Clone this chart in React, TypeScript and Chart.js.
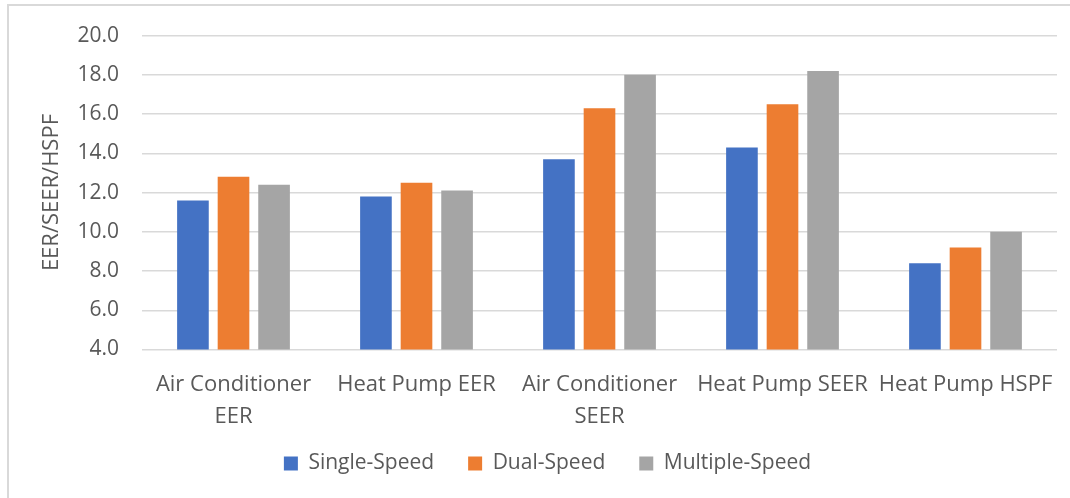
import React, { useEffect, useRef } from "react";
import { Chart, registerables } from "chart.js";

Chart.register(...registerables);

const categories: (string | string[])[] = [
  ["Air Conditioner", "EER"],
  "Heat Pump EER",
  ["Air Conditioner", "SEER"],
  "Heat Pump SEER",
  "Heat Pump HSPF",
];
const singleSpeed = [11.6, 11.8, 13.7, 14.3, 8.4];
const dualSpeed = [12.8, 12.5, 16.3, 16.5, 9.2];
const multipleSpeed = [12.4, 12.1, 18.0, 18.2, 10.0];
const seriesNames = ["Single-Speed", "Dual-Speed", "Multiple-Speed"];
const yTitle = "EER/SEER/HSPF";

const FONT = "'Open Sans', sans-serif";
const TEXT = "#595959";
const PAD_BOTTOM = 14;
const PLOT_BOTTOM = 349.5;
const CANVAS_H = 498;

export default function App() {
  const ref = useRef<HTMLCanvasElement>(null);
  useEffect(() => {
    if (!ref.current) return;
    const chart = new Chart(ref.current, {
      type: "bar",
      data: {
        labels: categories,
        datasets: [
          { label: seriesNames[0], data: singleSpeed, backgroundColor: "#4472C4" },
          { label: seriesNames[1], data: dualSpeed, backgroundColor: "#ED7D31" },
          { label: seriesNames[2], data: multipleSpeed, backgroundColor: "#A5A5A5" },
        ],
      },
      options: {
        animation: false,
        responsive: false,
        maintainAspectRatio: false,
        datasets: { bar: { barPercentage: 0.78, categoryPercentage: 0.665 } },
        layout: { padding: { left: 38, right: 13, top: 30, bottom: PAD_BOTTOM } },
        plugins: {
          tooltip: { enabled: false },
          legend: {
            position: "bottom",
            labels: {
              boxWidth: 14,
              boxHeight: 14,
              padding: 34,
              color: TEXT,
              font: { family: FONT, size: 21 },
            },
          },
        },
        scales: {
          x: {
            grid: { display: false },
            border: { display: false },
            afterFit: (scale: any) => {
              const lg = scale.chart.legend;
              const lh = lg ? lg.height : 0;
              scale.height = Math.max(10, CANVAS_H - PAD_BOTTOM - lh - PLOT_BOTTOM);
              // let the two-line category labels extend below the (shortened) axis box
              scale._computeLabelArea = () => undefined;
            },
            ticks: {
              color: TEXT,
              padding: 11,
              maxRotation: 0,
              autoSkip: false,
              font: { family: FONT, size: 22, lineHeight: 1.45 },
            },
          },
          y: {
            min: 4,
            max: 20,
            border: { display: false },
            grid: { color: "#d9d9d9", lineWidth: 1.5, drawTicks: false },
            afterFit: (scale: any) => {
              scale.width = 104;
            },
            ticks: {
              stepSize: 2,
              padding: 23,
              color: TEXT,
              font: { family: FONT, size: 21 },
              callback: (v: any) => Number(v).toFixed(1),
            },
            title: {
              display: true,
              text: yTitle,
              color: TEXT,
              padding: { top: 1, bottom: 13 },
              font: { family: FONT, size: 22, lineHeight: 1.2 },
            },
          },
        },
      },
    });
    return () => chart.destroy();
  }, []);
  return (
    <div style={{ position: "fixed", left: 0, top: 0, width: 1070, height: 498, background: "#fff", overflow: "hidden" }}>
      <div
        style={{
          position: "absolute",
          left: 7,
          top: 4,
          width: 1080,
          height: 510,
          borderTop: "2px solid #d9d9d9",
          borderLeft: "2px solid #d9d9d9",
        }}
      />
      <canvas ref={ref} width={1070} height={498} style={{ position: "absolute", left: 0, top: 0 }} />
    </div>
  );
}
